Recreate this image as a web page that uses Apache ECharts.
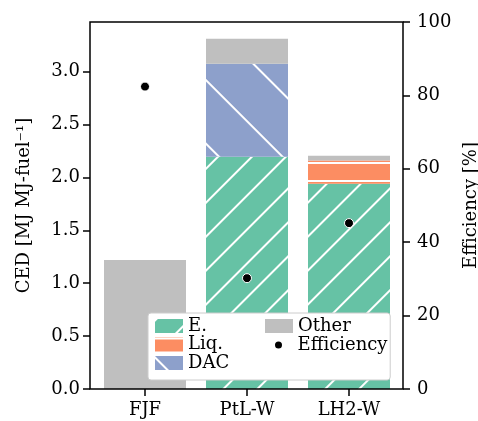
<!DOCTYPE html>
<html>
<head>
<meta charset="utf-8">
<script src="https://cdn.jsdelivr.net/npm/echarts@6/dist/echarts.min.js"></script>
<style>html,body{margin:0;padding:0;background:#fff}#c{width:478px;height:421px}</style>
</head>
<body>
<div id="c"></div>
<script>
const categories = ['FJF', 'PtL-W', 'LH2-W'];
const energy = [0, 2.195, 1.94];
const liquefaction = [0, 0, 0.22];
const dac = [0, 0.88, 0];
const other = [1.22, 0.235, 0.045];
const efficiency = [82.4, 30.2, 45.2];
const cedTicks = [0, 0.5, 1.0, 1.5, 2.0, 2.5, 3.0];
const cedMax = 3.469;
const effTicks = [0, 20, 40, 60, 80, 100];

const FONT = 'DejaVu Serif';
const FS = 18;
const chart = echarts.init(document.getElementById('c'));

const stripe = (rot, dy) => ({
  symbol: 'rect', symbolSize: 1, color: '#ffffff',
  dashArrayX: [1, 0], dashArrayY: dy, rotation: rot
});
const decalE = stripe(-Math.PI / 4, [1.8, 21.2]);
const decalLiq = stripe(0, [1.4, 16]);
const decalDAC = stripe(Math.PI / 4, [2, 43]);

const textStyle = { fontFamily: FONT, fontSize: FS, color: '#000' };
const tickStyle = { color: '#000', width: 1.5 };

chart.setOption({
  animation: false,
  textStyle: textStyle,
  grid: [
    { left: 90, top: 22, width: 313, height: 367, show: true, borderColor: '#000', borderWidth: 1.5,
      backgroundColor: 'transparent', z: 5, outerBoundsMode: 'none', containLabel: false },
    { left: 94, top: 22, width: 306, height: 367, outerBoundsMode: 'none', containLabel: false }
  ],
  xAxis: [
    { gridIndex: 0, type: 'value', show: false, min: 0, max: 1 },
    { gridIndex: 1, type: 'category', data: categories,
      axisLine: { show: false },
      axisTick: { show: true, alignWithLabel: true, length: 7, lineStyle: tickStyle },
      axisLabel: { margin: 12, fontFamily: FONT, fontSize: FS, color: '#000' } }
  ],
  yAxis: [
    { gridIndex: 0, type: 'value', min: 0, max: cedMax, position: 'left',
      name: 'CED [MJ MJ-fuel\u207B\u00B9]', nameLocation: 'middle', nameGap: 57, nameRotate: 90,
      nameTextStyle: { fontFamily: FONT, fontSize: FS, color: '#000' },
      axisLine: { show: false }, splitLine: { show: false },
      axisTick: { show: true, length: 7, lineStyle: tickStyle, customValues: cedTicks },
      axisLabel: { margin: 10, fontFamily: FONT, fontSize: FS, color: '#000', customValues: cedTicks,
        formatter: v => v.toFixed(1) } },
    { gridIndex: 0, type: 'value', min: 0, max: 100, interval: 20, position: 'right',
      name: 'Efficiency [%]', nameLocation: 'middle', nameGap: 58, nameRotate: 90,
      nameTextStyle: { fontFamily: FONT, fontSize: FS, color: '#000' },
      axisLine: { show: false }, splitLine: { show: false },
      axisTick: { show: true, length: 7, lineStyle: tickStyle, customValues: effTicks },
      axisLabel: { margin: 14, fontFamily: FONT, fontSize: FS, color: '#000', customValues: effTicks } },
    { gridIndex: 1, type: 'value', min: 0, max: cedMax, show: false },
    { gridIndex: 1, type: 'value', min: 0, max: 100, show: false }
  ],
  legend: [
    { data: [
        { name: 'E.', itemStyle: { color: '#66c2a5', decal: decalE } },
        { name: 'Liq.', itemStyle: { color: '#fc8d62', decal: decalLiq } },
        { name: 'DAC', itemStyle: { color: '#8da0cb', decal: decalDAC } }
      ],
      orient: 'vertical', left: 148, top: 313, icon: 'rect',
      padding: [4, 161, 8, 7], itemWidth: 28, itemHeight: 14, itemGap: 0.5,
      backgroundColor: '#ffffff', borderColor: '#cccccc', borderWidth: 1, borderRadius: 3,
      textStyle: textStyle, z: 10 },
    { data: ['Other'], orient: 'vertical', left: 265, top: 317, padding: 0, icon: 'rect',
      itemWidth: 28, itemHeight: 14, textStyle: textStyle, z: 11 },
    { data: ['Efficiency'], orient: 'vertical', left: 273, top: 336, padding: 0,
      itemWidth: 28, itemHeight: 9, textStyle: textStyle, z: 11 }
  ],
  series: [
    { name: 'E.', type: 'bar', stack: 'ced', xAxisIndex: 1, yAxisIndex: 2, barWidth: 82, data: energy,
      itemStyle: { color: '#66c2a5', decal: decalE } },
    { name: 'Liq.', type: 'bar', stack: 'ced', xAxisIndex: 1, yAxisIndex: 2, barWidth: 82, data: liquefaction,
      itemStyle: { color: '#fc8d62', decal: decalLiq } },
    { name: 'DAC', type: 'bar', stack: 'ced', xAxisIndex: 1, yAxisIndex: 2, barWidth: 82, data: dac,
      itemStyle: { color: '#8da0cb', decal: decalDAC } },
    { name: 'Other', type: 'bar', stack: 'ced', xAxisIndex: 1, yAxisIndex: 2, barWidth: 82, data: other,
      itemStyle: { color: '#bfbfbf' } },
    { name: 'Efficiency', type: 'scatter', xAxisIndex: 1, yAxisIndex: 3, data: efficiency,
      symbol: 'circle', symbolSize: 9, z: 8,
      itemStyle: { color: '#000', borderColor: '#fff', borderWidth: 1, opacity: 1 } }
  ]
});
</script>
</body>
</html>
